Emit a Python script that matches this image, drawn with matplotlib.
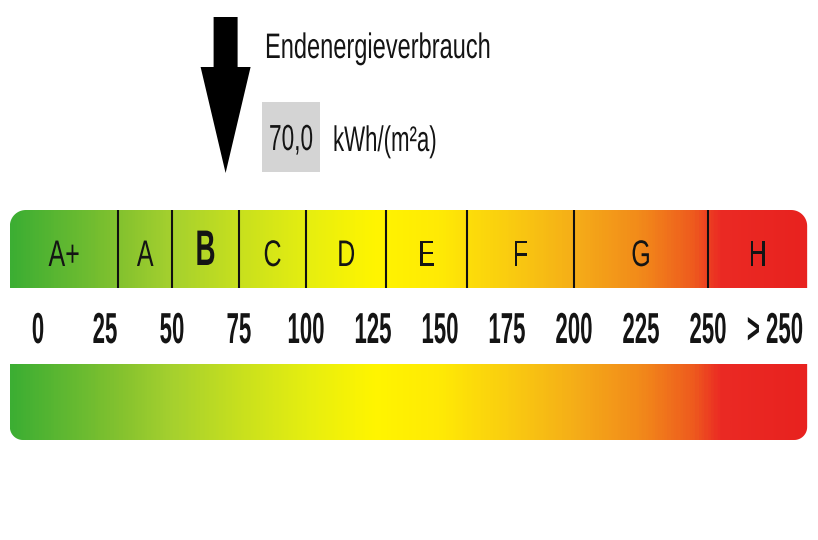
import numpy as np
import matplotlib
matplotlib.use("Agg")
from matplotlib import pyplot as plt
from matplotlib.colors import LinearSegmentedColormap
from matplotlib.patches import Polygon, Rectangle
from matplotlib.patheffects import AbstractPathEffect
from matplotlib.transforms import Affine2D

# データ
verbrauch = 70.0                                   # Endenergieverbrauch kWh/(m²a)
klassen = ["A+", "A", "B", "C", "D", "E", "F", "G", "H"]
grenzen = [30, 50, 75, 100, 130, 160, 200, 250]    # Klassengrenzen
skala = [0, 25, 50, 75, 100, 125, 150, 175, 200, 225, 250]
skala_ende = (275, "> 250")
aktive_klasse = "B"

# Farbverlauf (Wert, Farbe)
verlauf = [(-10.5, "#3cae33"), (30, "#84c22f"), (50, "#a6d12e"), (75, "#c8e01e"),
           (100, "#e6ee10"), (125, "#fff500"), (150, "#ffea05"), (175, "#facd10"),
           (200, "#f5ae18"), (225, "#f28a1a"), (245, "#ee5a1e"), (255, "#eb2a24"),
           (287, "#e8221f")]

PX = 2.68            # Pixel pro kWh
v_min, v_max = -10.5, 287.0
FONT = "Liberation Sans"


# Text vertikal strecken (der Originaltext ist sehr hoch und schmal)
class Stretch(AbstractPathEffect):
    def __init__(self, sy):
        super().__init__()
        self.sy = sy

    def draw_path(self, renderer, gc, tpath, affine, rgbFace=None):
        renderer.draw_path(gc, tpath, Affine2D().scale(1, self.sy) + affine, rgbFace)


def label(ax, x, y, s, size, sy, ha="center", weight="normal", color="#141414"):
    ax.text(x, y, s, fontsize=size, ha=ha, va="baseline", family=FONT,
            weight=weight, color=color, path_effects=[Stretch(sy)])


def bar_outline(ax, x0, x1, y_top, y_bot, r, tl, tr, br, bl):
    rx = r / PX
    t = np.linspace(0, np.pi / 2, 16)
    pts = []
    if tl:
        pts += list(zip(x0 + rx - rx * np.cos(t), y_top + r - r * np.sin(t)))
    else:
        pts.append((x0, y_top))
    if tr:
        pts += list(zip(x1 - rx + rx * np.sin(t), y_top + r - r * np.cos(t)))
    else:
        pts.append((x1, y_top))
    if br:
        pts += list(zip(x1 - rx + rx * np.cos(t), y_bot - r + r * np.sin(t)))
    else:
        pts.append((x1, y_bot))
    if bl:
        pts += list(zip(x0 + rx - rx * np.sin(t), y_bot - r + r * np.cos(t)))
    else:
        pts.append((x0, y_bot))
    p = Polygon(pts, closed=True, facecolor="none", edgecolor="none",
                transform=ax.transData)
    ax.add_patch(p)
    return p


pos = [(v - v_min) / (v_max - v_min) for v, c in verlauf]
cmap = LinearSegmentedColormap.from_list("ev", list(zip(pos, [c for v, c in verlauf])))
grad = np.linspace(v_min, v_max, 600).reshape(1, -1)

fig = plt.figure(figsize=(8.18, 5.4), dpi=100)
ax = fig.add_axes([0, 0, 1, 1])
ax.axis("off")

# obere Leiste mit Klassen
top = bar_outline(ax, v_min, v_max, 210, 288, 16, True, True, False, False)
im = ax.imshow(grad, extent=(v_min, v_max, 288, 210), aspect="auto", cmap=cmap,
               vmin=v_min, vmax=v_max)
im.set_clip_path(top)
ax.vlines(grenzen, 210, 288, color="#101010", lw=1.5)

kanten = [v_min] + grenzen + [v_max]
for i, k in enumerate(klassen):
    mitte = (kanten[i] + kanten[i + 1]) / 2
    if k == aktive_klasse:
        label(ax, mitte, 265, k, 20, 1.8, weight="bold")
    else:
        label(ax, mitte, 266, k, 18, 1.48)

# Skala
for v in skala:
    label(ax, v, 343, str(v), 16, 1.95, weight="bold")
label(ax, skala_ende[0], 343, skala_ende[1], 16, 1.95, weight="bold")

# untere Leiste
unten = bar_outline(ax, v_min, v_max, 364, 440, 13, False, False, True, True)
im2 = ax.imshow(grad, extent=(v_min, v_max, 440, 364), aspect="auto", cmap=cmap,
                vmin=v_min, vmax=v_max)
im2.set_clip_path(unten)

# Pfeil
sw, hw = 12 / PX, 25 / PX
pfeil = [(verbrauch - sw, 17), (verbrauch + sw, 17), (verbrauch + sw, 67),
         (verbrauch + hw, 67), (verbrauch, 173), (verbrauch - hw, 67),
         (verbrauch - sw, 67)]
ax.add_patch(Polygon(pfeil, closed=True, facecolor="black", edgecolor="none"))

# Text oben
x_text = (265 - 38) / PX
label(ax, x_text, 58, "Endenergieverbrauch", 17, 1.5, ha="left")
bx0, bx1 = (262 - 38) / PX, (320 - 38) / PX
ax.add_patch(Rectangle((bx0, 102), bx1 - bx0, 70, facecolor="#d4d4d4", edgecolor="none"))
label(ax, (bx0 + bx1) / 2, 150, f"{verbrauch:.1f}".replace(".", ","), 16.3, 1.6)
label(ax, (333 - 38) / PX, 151, "kWh/(m²a)", 16, 1.6, ha="left")

ax.set_xlim(-38 / PX, (818 - 38) / PX)
ax.set_ylim(540, 0)

plt.savefig("out.png", dpi=100, facecolor="white")
plt.close()
